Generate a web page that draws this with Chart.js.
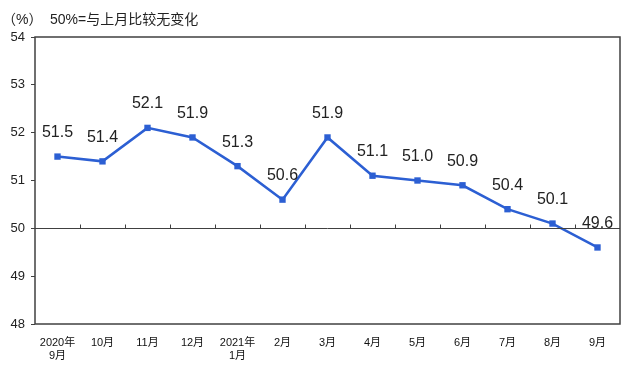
<!DOCTYPE html>
<html>
<head>
<meta charset="utf-8">
<script src="https://cdn.jsdelivr.net/npm/chart.js@4/dist/chart.umd.min.js"></script>
<style>
    html, body { margin: 0; padding: 0; background: #fff; }
    #wrap { position: relative; width: 635px; height: 366px; }
    canvas { position: absolute; left: 0; top: 0; }
    .note { position: absolute; top: 8px; font-family: "Liberation Sans", "Noto Sans CJK SC", sans-serif; font-size: 14px; color: #222; }
</style>
</head>
<body>
<div id="wrap">
    <canvas id="pmi" width="635" height="366"></canvas>
    <div class="note" style="left:2px;">（%）</div>
    <div class="note" style="left:50px;">50%=与上月比较无变化</div>
</div>
<script>
// PMI chart

const months = [['2020年', '9月'], '10月', '11月', '12月', ['2021年', '1月'], '2月', '3月', '4月', '5月', '6月', '7月', '8月', '9月'];
const pmiValues = [51.5, 51.4, 52.1, 51.9, 51.3, 50.6, 51.9, 51.1, 51.0, 50.9, 50.4, 50.1, 49.6];
const yTicks = [48, 49, 50, 51, 52, 53, 54];
const baseline = 50;

const lineColor = '#2c5fd3';
const axisColor = '#404040';

// box around plot, line at 50 with category ticks, value labels
const framePlugin = {
    id: 'frame',
    afterDatasetsDraw(chart) {
        const ctx = chart.ctx;
        const area = chart.chartArea;
        const x = chart.scales.x;
        const y = chart.scales.y;
        ctx.save();
        ctx.strokeStyle = axisColor;
        ctx.lineWidth = 1.5;
        ctx.strokeRect(area.left, area.top, area.right - area.left, area.bottom - area.top);

        const y50 = Math.round(y.getPixelForValue(baseline)) + 0.5;
        ctx.lineWidth = 1;
        ctx.beginPath();
        ctx.moveTo(area.left, y50);
        ctx.lineTo(area.right, y50);
        const step = x.getPixelForValue(1) - x.getPixelForValue(0);
        for (let i = 1; i < months.length; i++) {
            const bx = Math.round(x.getPixelForValue(i) - step / 2) + 0.5;
            ctx.moveTo(bx, y50);
            ctx.lineTo(bx, y50 - 4);
        }
        ctx.stroke();

        // value labels
        ctx.fillStyle = '#222';
        ctx.font = '16px "Liberation Sans", Arial, sans-serif';
        ctx.textAlign = 'center';
        ctx.textBaseline = 'middle';
        const meta = chart.getDatasetMeta(0);
        meta.data.forEach(function(pt, i) {
            ctx.fillText(pmiValues[i].toFixed(1), pt.x, pt.y - 24);
        });
        ctx.restore();
    }
};

const ctx = document.getElementById('pmi').getContext('2d');
new Chart(ctx, {
    type: 'line',
    data: {
        labels: months,
        datasets: [{
            data: pmiValues,
            borderColor: lineColor,
            backgroundColor: lineColor,
            borderWidth: 2.5,
            pointStyle: 'rect',
            pointRadius: 4.5,
            pointBorderWidth: 0,
            tension: 0,
            clip: false
        }]
    },
    options: {
        responsive: false,
        animation: false,
        layout: { padding: { left: 0, right: 15, top: 37, bottom: 0 } },
        plugins: {
            legend: { display: false },
            tooltip: { enabled: false }
        },
        scales: {
            x: {
                offset: true,
                grid: { display: false, drawTicks: false },
                border: { display: false },
                afterFit: function(scale) { scale.height = 42; },
                ticks: {
                    color: '#111',
                    padding: 12,
                    maxRotation: 0,
                    autoSkip: false,
                    font: { family: '"Liberation Sans", "Noto Sans CJK SC", sans-serif', size: 11 }
                }
            },
            y: {
                min: 48,
                max: 54,
                afterFit: function(scale) { scale.width = 35; },
                afterBuildTicks: function(scale) {
                    scale.ticks = yTicks.map(function(v) { return { value: v }; });
                },
                grid: {
                    drawOnChartArea: false,
                    drawTicks: true,
                    tickLength: 4,
                    color: axisColor
                },
                border: { display: false },
                ticks: {
                    color: '#222',
                    padding: 6,
                    font: { family: '"Liberation Sans", sans-serif', size: 13 }
                }
            }
        }
    },
    plugins: [framePlugin]
});
</script>
</body>
</html>
